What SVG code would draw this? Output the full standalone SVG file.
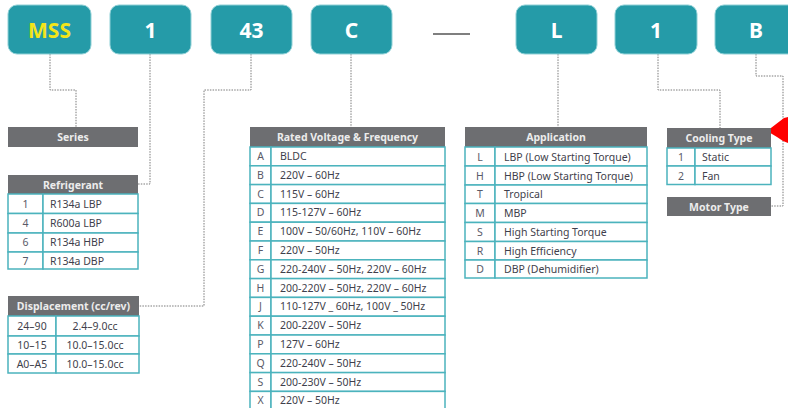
<svg xmlns="http://www.w3.org/2000/svg" width="788" height="408" viewBox="0 0 788 408">
<style>
.box{fill:#259ba8;stroke:#8fd0d6;stroke-width:1}
.bt{font-family:"Noto Sans","DejaVu Sans",sans-serif;font-weight:bold;font-size:21px;fill:#ffffff;text-anchor:middle}
.hd{fill:#6d6e71}
.ht{font-family:"Noto Sans","DejaVu Sans",sans-serif;font-weight:bold;font-size:10.5px;fill:#ececec;text-anchor:middle}
.cell{fill:#ffffff;stroke:#4bb3bd;stroke-width:1.5}
.cd{font-family:"Noto Sans","DejaVu Sans",sans-serif;font-size:10.5px;fill:#5a5a68;text-anchor:middle}
.tx{font-family:"Noto Sans","DejaVu Sans",sans-serif;font-size:10.5px;fill:#3f3f4c}
.txc{font-family:"Noto Sans","DejaVu Sans",sans-serif;font-size:10.5px;fill:#3f3f4c;text-anchor:middle}
.con{fill:none;stroke:#7a7a7a;stroke-width:1;stroke-dasharray:1.5 1.2}
</style>
<rect width="788" height="408" fill="#ffffff"/>

<g id="connectors">
<polyline class="con" points="50,54 50,90 76,90 76,127"/>
<polyline class="con" points="150,54 150,184 138,184"/>
<polyline class="con" points="251,54 251,90 204,90 204,306 139,306"/>
<polyline class="con" points="351,54 351,127"/>
<polyline class="con" points="558,54 558,127"/>
<polyline class="con" points="658,54 658,90 720,90 720,128"/>
<polyline class="con" points="756,54 756,76 783,76 783,206 771,206"/>
<line x1="433" y1="34" x2="470" y2="34" stroke="#555555" stroke-width="1.5"/>
<polygon points="767,131 784,118 788,117 788,143 783,141 777,137" fill="#ff0000"/>
</g>

<g id="code-MSS"><rect class="box" x="8" y="5" width="83" height="49" rx="9"/><text class="bt" x="49.5" y="38" style="fill:#f2e51a">MSS</text></g>
<g id="code-1"><rect class="box" x="110" y="5" width="81" height="49" rx="9"/><text class="bt" x="150.5" y="38">1</text></g>
<g id="code-43"><rect class="box" x="211" y="5" width="81" height="49" rx="9"/><text class="bt" x="251.5" y="38">43</text></g>
<g id="code-C"><rect class="box" x="311" y="5" width="81" height="49" rx="9"/><text class="bt" x="351.5" y="38">C</text></g>
<g id="code-L"><rect class="box" x="516" y="5" width="81" height="49" rx="9"/><text class="bt" x="556.5" y="38">L</text></g>
<g id="code-1b"><rect class="box" x="615" y="5" width="82" height="49" rx="9"/><text class="bt" x="656" y="38">1</text></g>
<g id="code-B"><rect class="box" x="715" y="5" width="82" height="49" rx="9"/><text class="bt" x="756" y="38">B</text></g>

<g id="series"><rect class="hd" x="8" y="127" width="130" height="20"/><text class="ht" x="73" y="141">Series</text></g>

<g id="refrigerant">
<rect class="hd" x="8" y="175" width="130" height="19"/><text class="ht" x="73" y="188.5">Refrigerant</text>
<rect class="cell" x="8" y="194" width="35" height="19.5"/><rect class="cell" x="43" y="194" width="95" height="19.5"/>
<rect class="cell" x="8" y="213.5" width="35" height="19.5"/><rect class="cell" x="43" y="213.5" width="95" height="19.5"/>
<rect class="cell" x="8" y="233" width="35" height="19" /><rect class="cell" x="43" y="233" width="95" height="19"/>
<rect class="cell" x="8" y="252" width="35" height="17"/><rect class="cell" x="43" y="252" width="95" height="17"/>
<text class="cd" x="25.5" y="207.5">1</text><text class="tx" x="50" y="207.5">R134a LBP</text>
<text class="cd" x="25.5" y="227">4</text><text class="tx" x="50" y="227">R600a LBP</text>
<text class="cd" x="25.5" y="246">6</text><text class="tx" x="50" y="246">R134a HBP</text>
<text class="cd" x="25.5" y="264.5">7</text><text class="tx" x="50" y="264.5">R134a DBP</text>
</g>

<g id="displacement">
<rect class="hd" x="8" y="296" width="131" height="20"/><text class="ht" x="73.5" y="310">Displacement (cc/rev)</text>
<rect class="cell" x="8" y="316" width="48" height="20"/><rect class="cell" x="56" y="316" width="83" height="20"/>
<rect class="cell" x="8" y="336" width="48" height="18"/><rect class="cell" x="56" y="336" width="83" height="18"/>
<rect class="cell" x="8" y="354" width="48" height="19"/><rect class="cell" x="56" y="354" width="83" height="19"/>
<text class="txc" x="32" y="330">24–90</text><text class="txc" x="95" y="330">2.4–9.0cc</text>
<text class="txc" x="32" y="349">10–15</text><text class="txc" x="95" y="349">10.0–15.0cc</text>
<text class="txc" x="32" y="367.5">A0–A5</text><text class="txc" x="95" y="367.5">10.0–15.0cc</text>
</g>

<g id="voltage">
<rect class="hd" x="250" y="127" width="195" height="20"/><text class="ht" x="347.5" y="141">Rated Voltage &amp; Frequency</text>
<g>
<rect class="cell" x="250" y="147" width="21" height="18.8"/><rect class="cell" x="271" y="147" width="174" height="18.8"/>
<rect class="cell" x="250" y="165.8" width="21" height="18.8"/><rect class="cell" x="271" y="165.8" width="174" height="18.8"/>
<rect class="cell" x="250" y="184.6" width="21" height="18.8"/><rect class="cell" x="271" y="184.6" width="174" height="18.8"/>
<rect class="cell" x="250" y="203.4" width="21" height="18.8"/><rect class="cell" x="271" y="203.4" width="174" height="18.8"/>
<rect class="cell" x="250" y="222.2" width="21" height="18.8"/><rect class="cell" x="271" y="222.2" width="174" height="18.8"/>
<rect class="cell" x="250" y="241" width="21" height="18.8"/><rect class="cell" x="271" y="241" width="174" height="18.8"/>
<rect class="cell" x="250" y="259.8" width="21" height="18.8"/><rect class="cell" x="271" y="259.8" width="174" height="18.8"/>
<rect class="cell" x="250" y="278.6" width="21" height="18.8"/><rect class="cell" x="271" y="278.6" width="174" height="18.8"/>
<rect class="cell" x="250" y="297.4" width="21" height="18.8"/><rect class="cell" x="271" y="297.4" width="174" height="18.8"/>
<rect class="cell" x="250" y="316.2" width="21" height="18.8"/><rect class="cell" x="271" y="316.2" width="174" height="18.8"/>
<rect class="cell" x="250" y="335" width="21" height="18.8"/><rect class="cell" x="271" y="335" width="174" height="18.8"/>
<rect class="cell" x="250" y="353.8" width="21" height="18.8"/><rect class="cell" x="271" y="353.8" width="174" height="18.8"/>
<rect class="cell" x="250" y="372.6" width="21" height="18.8"/><rect class="cell" x="271" y="372.6" width="174" height="18.8"/>
<rect class="cell" x="250" y="391.4" width="21" height="18.8"/><rect class="cell" x="271" y="391.4" width="174" height="18.8"/>
</g>
<text class="cd" x="260.5" y="160">A</text><text class="tx" x="280" y="160">BLDC</text>
<text class="cd" x="260.5" y="178.8">B</text><text class="tx" x="280" y="178.8">220V – 60Hz</text>
<text class="cd" x="260.5" y="197.6">C</text><text class="tx" x="280" y="197.6">115V – 60Hz</text>
<text class="cd" x="260.5" y="216.4">D</text><text class="tx" x="280" y="216.4">115-127V – 60Hz</text>
<text class="cd" x="260.5" y="235.2">E</text><text class="tx" x="280" y="235.2">100V – 50/60Hz, 110V – 60Hz</text>
<text class="cd" x="260.5" y="254">F</text><text class="tx" x="280" y="254">220V – 50Hz</text>
<text class="cd" x="260.5" y="272.8">G</text><text class="tx" x="280" y="272.8">220-240V – 50Hz, 220V – 60Hz</text>
<text class="cd" x="260.5" y="291.6">H</text><text class="tx" x="280" y="291.6">200-220V – 50Hz, 220V – 60Hz</text>
<text class="cd" x="260.5" y="310.4">J</text><text class="tx" x="280" y="310.4">110-127V _ 60Hz, 100V _ 50Hz</text>
<text class="cd" x="260.5" y="329.2">K</text><text class="tx" x="280" y="329.2">200-220V – 50Hz</text>
<text class="cd" x="260.5" y="348">P</text><text class="tx" x="280" y="348">127V – 60Hz</text>
<text class="cd" x="260.5" y="366.8">Q</text><text class="tx" x="280" y="366.8">220-240V – 50Hz</text>
<text class="cd" x="260.5" y="385.6">S</text><text class="tx" x="280" y="385.6">200-230V – 50Hz</text>
<text class="cd" x="260.5" y="404.4">X</text><text class="tx" x="280" y="404.4">220V – 50Hz</text>
</g>

<g id="application">
<rect class="hd" x="465" y="127" width="182" height="20"/><text class="ht" x="556" y="141">Application</text>
<rect class="cell" x="465" y="147" width="30" height="19"/><rect class="cell" x="495" y="147" width="152" height="19"/>
<rect class="cell" x="465" y="166" width="30" height="19"/><rect class="cell" x="495" y="166" width="152" height="19"/>
<rect class="cell" x="465" y="185" width="30" height="18.5"/><rect class="cell" x="495" y="185" width="152" height="18.5"/>
<rect class="cell" x="465" y="203.5" width="30" height="19"/><rect class="cell" x="495" y="203.5" width="152" height="19"/>
<rect class="cell" x="465" y="222.5" width="30" height="19"/><rect class="cell" x="495" y="222.5" width="152" height="19"/>
<rect class="cell" x="465" y="241.5" width="30" height="18.5"/><rect class="cell" x="495" y="241.5" width="152" height="18.5"/>
<rect class="cell" x="465" y="260" width="30" height="18"/><rect class="cell" x="495" y="260" width="152" height="18"/>
<text class="cd" x="480" y="160.5">L</text><text class="tx" x="504" y="160.5">LBP (Low Starting Torque)</text>
<text class="cd" x="480" y="179.5">H</text><text class="tx" x="504" y="179.5">HBP (Low Starting Torque)</text>
<text class="cd" x="480" y="198">T</text><text class="tx" x="504" y="198">Tropical</text>
<text class="cd" x="480" y="217">M</text><text class="tx" x="504" y="217">MBP</text>
<text class="cd" x="480" y="236">S</text><text class="tx" x="504" y="236">High Starting Torque</text>
<text class="cd" x="480" y="254.5">R</text><text class="tx" x="504" y="254.5">High Efficiency</text>
<text class="cd" x="480" y="273">D</text><text class="tx" x="504" y="273">DBP (Dehumidifier)</text>
</g>

<g id="cooling">
<rect class="hd" x="667" y="128" width="104" height="20"/><text class="ht" x="719" y="142">Cooling Type</text>
<rect class="cell" x="667" y="148" width="28" height="18"/><rect class="cell" x="695" y="148" width="76" height="18"/>
<rect class="cell" x="667" y="166" width="28" height="18.5"/><rect class="cell" x="695" y="166" width="76" height="18.5"/>
<text class="cd" x="681" y="161">1</text><text class="tx" x="702" y="161">Static</text>
<text class="cd" x="681" y="179.5">2</text><text class="tx" x="702" y="179.5">Fan</text>
</g>

<g id="motor"><rect class="hd" x="667" y="197" width="104" height="19"/><text class="ht" x="719" y="210.5">Motor Type</text></g>
</svg>
